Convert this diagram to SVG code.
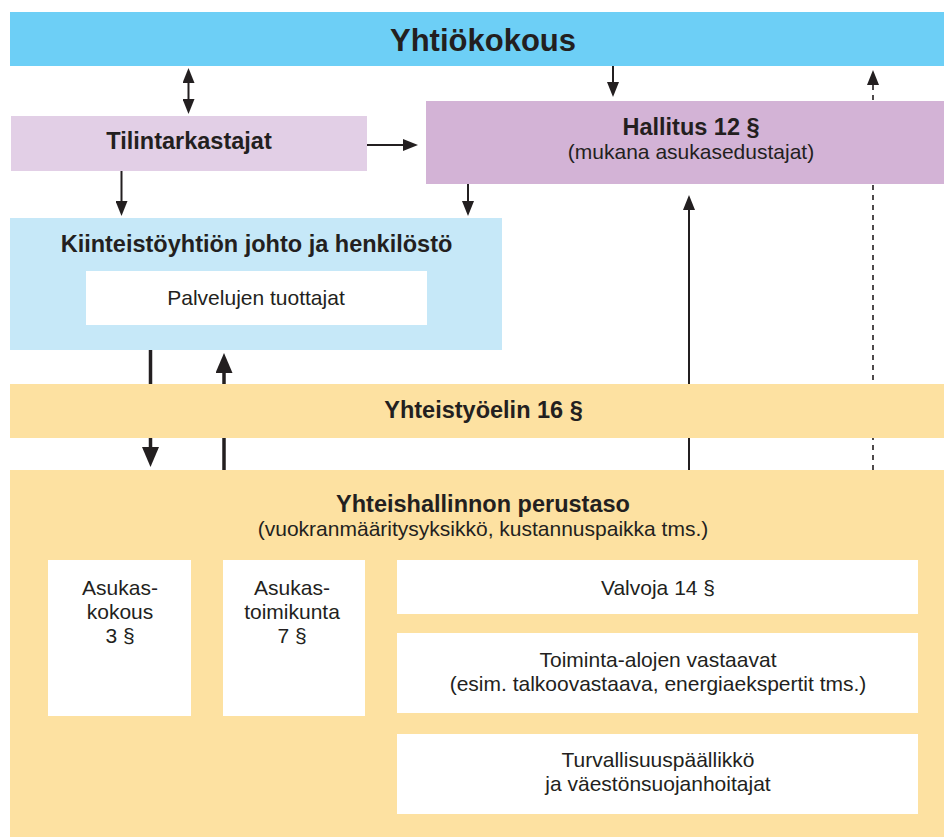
<svg xmlns="http://www.w3.org/2000/svg" width="944" height="837" viewBox="0 0 944 837">
<defs>
<style>
text{font-family:"Liberation Sans",Arial,sans-serif;fill:#231F20;text-anchor:middle}
.b{font-weight:bold;font-size:23.5px}
.t{font-size:21px}
.c{stroke:#231F20;stroke-width:2;fill:none}
.k{stroke:#231F20;stroke-width:3.5;fill:none}
.d{stroke:#231F20;stroke-width:1.6;fill:none;stroke-dasharray:5,5}
</style>
<marker id="ah" viewBox="0 0 10 10" refX="3" refY="5" markerWidth="15" markerHeight="12" markerUnits="userSpaceOnUse" orient="auto-start-reverse" preserveAspectRatio="none">
<path d="M0,0 L10,5 L0,10 z" fill="#231F20"/>
</marker>
<marker id="ahw" viewBox="0 0 10 10" refX="3" refY="5" markerWidth="20" markerHeight="17" markerUnits="userSpaceOnUse" orient="auto-start-reverse" preserveAspectRatio="none">
<path d="M0,0 L10,5 L0,10 z" fill="#231F20"/>
</marker>
</defs>
<rect width="944" height="837" fill="#fff"/>
<g id="connectors">
<line x1="188.5" y1="78.5" x2="188.5" y2="103.5" class="c" marker-start="url(#ah)" marker-end="url(#ah)"/>
<line x1="613" y1="66" x2="613" y2="86.5" class="c" marker-end="url(#ah)"/>
<line x1="367" y1="145" x2="407.5" y2="145" class="c" marker-end="url(#ah)"/>
<line x1="121.5" y1="171" x2="121.5" y2="205.5" class="c" marker-end="url(#ah)"/>
<line x1="468" y1="184" x2="468" y2="205.5" class="c" marker-end="url(#ah)"/>
<line x1="873" y1="470" x2="873" y2="80.5" class="d" marker-end="url(#ah)"/>
<line x1="689" y1="470" x2="689" y2="205.5" class="c" marker-end="url(#ah)"/>
<line x1="150.5" y1="350" x2="150.5" y2="453" class="k" marker-end="url(#ahw)"/>
<line x1="224" y1="470" x2="224" y2="367" class="k" marker-end="url(#ahw)"/>
</g>
<g id="yhtiokokous">
<rect x="10" y="12" width="934" height="54" fill="#6DCFF6"/>
<text x="483" y="51" font-weight="bold" font-size="31">Yhtiökokous</text>
</g>
<g id="tilintarkastajat">
<rect x="11" y="116" width="356" height="55" fill="#E2CFE6"/>
<text x="189" y="149" class="b">Tilintarkastajat</text>
</g>
<g id="hallitus">
<rect x="426" y="101" width="518" height="83" fill="#D3B3D6"/>
<text x="691" y="135" class="b">Hallitus 12 §</text>
<text x="691" y="159" class="t">(mukana asukasedustajat)</text>
</g>
<g id="kiinteisto">
<rect x="10" y="218" width="492" height="132" fill="#C6E8F8"/>
<text x="256.5" y="252" class="b">Kiinteistöyhtiön johto ja henkilöstö</text>
<g id="palvelujen">
<rect x="86" y="271" width="341" height="54" fill="#fff"/>
<text x="256" y="305" class="t">Palvelujen tuottajat</text>
</g>
</g>
<g id="yhteistyoelin">
<rect x="10" y="384" width="934" height="54" fill="#FDE1A1"/>
<text x="483.5" y="418" class="b">Yhteistyöelin 16 §</text>
</g>
<g id="perustaso">
<rect x="10" y="470" width="934" height="367" fill="#FDE1A1"/>
<text x="483" y="512" class="b">Yhteishallinnon perustaso</text>
<text x="483" y="536" class="t">(vuokranmääritysyksikkö, kustannuspaikka tms.)</text>
</g>
<g id="asukaskokous">
<rect x="48" y="560" width="143" height="156" fill="#fff"/>
<text x="120" y="595" class="t">Asukas-</text>
<text x="120" y="619" class="t">kokous</text>
<text x="120" y="643" class="t">3 §</text>
</g>
<g id="asukastoimikunta">
<rect x="223" y="560" width="142" height="156" fill="#fff"/>
<text x="292" y="595" class="t">Asukas-</text>
<text x="292" y="619" class="t">toimikunta</text>
<text x="292" y="643" class="t">7 §</text>
</g>
<g id="valvoja">
<rect x="397" y="560" width="521" height="54" fill="#fff"/>
<text x="658" y="595" class="t">Valvoja 14 §</text>
</g>
<g id="toiminta">
<rect x="397" y="633" width="521" height="80" fill="#fff"/>
<text x="658" y="667" class="t">Toiminta-alojen vastaavat</text>
<text x="658" y="691" class="t">(esim. talkoovastaava, energiaekspertit tms.)</text>
</g>
<g id="turvallisuus">
<rect x="397" y="734" width="521" height="80" fill="#fff"/>
<text x="658" y="767" class="t">Turvallisuuspäällikkö</text>
<text x="658" y="791" class="t">ja väestönsuojanhoitajat</text>
</g>
</svg>
